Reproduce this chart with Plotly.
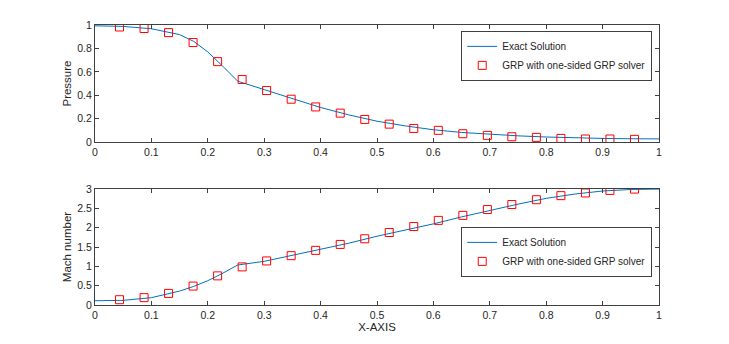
import plotly.graph_objects as go
from plotly.subplots import make_subplots

# exact solution
x_exact = [0.0, 0.05, 0.1, 0.15, 0.175, 0.2, 0.225, 0.253, 0.3, 0.35, 0.4, 0.45,
           0.5, 0.55, 0.6, 0.65, 0.7, 0.75, 0.8, 0.85, 0.9, 0.95, 1.0]
p_exact = [0.993, 0.988, 0.968, 0.918, 0.86, 0.77, 0.655, 0.52, 0.448, 0.37, 0.295, 0.232,
           0.178, 0.138, 0.105, 0.082, 0.065, 0.053, 0.043, 0.035, 0.031, 0.028, 0.027]
m_exact = [0.11, 0.12, 0.19, 0.36, 0.48, 0.63, 0.81, 1.035, 1.13, 1.28, 1.44, 1.6,
           1.78, 1.94, 2.1, 2.28, 2.45, 2.61, 2.76, 2.87, 2.95, 2.99, 3.0]

# GRP markers
x_grp = [0.0435, 0.087, 0.1304, 0.1739, 0.2174, 0.2609, 0.3043, 0.3478, 0.3913, 0.4348, 0.4783,
         0.5217, 0.5652, 0.6087, 0.6522, 0.6957, 0.7391, 0.7826, 0.8261, 0.8696, 0.913, 0.9565]
p_grp = [0.983, 0.97, 0.935, 0.85, 0.687, 0.534, 0.44, 0.366, 0.30, 0.247, 0.193,
         0.153, 0.116, 0.10, 0.071, 0.057, 0.045, 0.04, 0.031, 0.026, 0.026, 0.023]
m_grp = [0.137, 0.19, 0.30, 0.49, 0.754, 0.986, 1.14, 1.277, 1.414, 1.568, 1.714,
         1.877, 2.03, 2.19, 2.32, 2.47, 2.6, 2.725, 2.83, 2.9, 2.965, 3.0]

blue = '#0072BD'
red = '#FF0000'
axc = '#404040'
txt = '#262626'

fig = make_subplots(rows=2, cols=1)

fig.add_trace(go.Scatter(x=x_exact, y=p_exact, mode='lines', name='Exact Solution',
                         line=dict(color=blue, width=1), legend='legend'), row=1, col=1)
fig.add_trace(go.Scatter(x=x_grp, y=p_grp, mode='markers', name='GRP with one-sided GRP solver',
                         marker=dict(symbol='square-open', size=8, color=red, line=dict(width=1)),
                         legend='legend'), row=1, col=1)
fig.add_trace(go.Scatter(x=x_exact, y=m_exact, mode='lines', name='Exact Solution',
                         line=dict(color=blue, width=1), legend='legend2'), row=2, col=1)
fig.add_trace(go.Scatter(x=x_grp, y=m_grp, mode='markers', name='GRP with one-sided GRP solver',
                         marker=dict(symbol='square-open', size=8, color=red, line=dict(width=1)),
                         legend='legend2'), row=2, col=1)

axis_style = dict(showline=True, linecolor=axc, linewidth=1, mirror='ticks', ticks='inside',
                  ticklen=4, tickcolor=axc, showgrid=False, zeroline=False,
                  tickfont=dict(size=10.5, color=txt))

fig.update_xaxes(range=[0, 1], dtick=0.1, domain=[0, 1], **axis_style)
fig.update_xaxes(title=dict(text='X-AXIS', font=dict(size=11.5, color=txt), standoff=0), row=2, col=1)
fig.update_yaxes(range=[0, 1], dtick=0.2, domain=[0.582, 1.0], row=1, col=1,
                 title=dict(text='Pressure', font=dict(size=11.5, color=txt), standoff=3), **axis_style)
fig.update_yaxes(range=[0, 3], dtick=0.5, domain=[0.0, 0.414], row=2, col=1,
                 title=dict(text='Mach number', font=dict(size=11.5, color=txt), standoff=3), **axis_style)

legend_style = dict(xanchor='right', yanchor='top', bgcolor='white', bordercolor=axc, borderwidth=1,
                    font=dict(size=10, color=txt), tracegroupgap=0, itemwidth=30)
# page body has an 8px margin, so the figure is offset by 8px right and down
fig.update_layout(
    width=729, height=344,
    margin=dict(l=87, r=78, t=17, b=47),
    paper_bgcolor='white', plot_bgcolor='white',
    font=dict(family='Liberation Sans, Arial, sans-serif'),
    legend=dict(x=0.988, y=0.979, **legend_style),
    legend2=dict(x=0.988, y=0.279, **legend_style),
)

fig.write_html("out.html")
